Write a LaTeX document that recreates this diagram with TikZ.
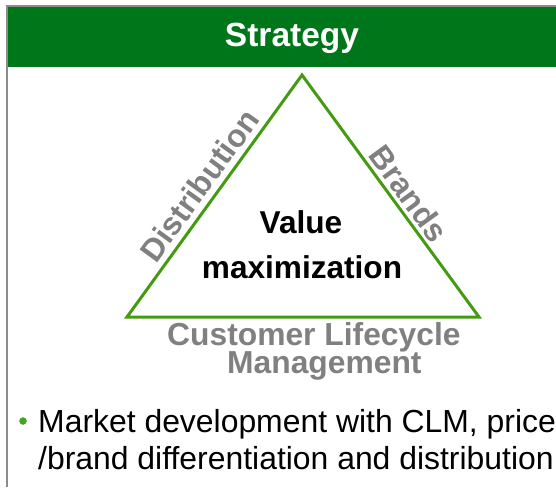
\documentclass[tikz,border=0pt]{standalone}
\usepackage{fontspec}
\setmainfont{Liberation Sans}

\definecolor{bandgreen}{RGB}{0,118,26}
\definecolor{trigreen}{RGB}{68,155,18}
\definecolor{dotgreen}{RGB}{70,165,30}
\definecolor{labelgray}{RGB}{128,128,128}
\definecolor{framegray}{RGB}{140,140,140}

\tikzset{
    sidelabel/.style={text=labelgray, inner sep=0pt, anchor=base,
        font=\fontsize{31.8}{31.8}\selectfont\bfseries},
    centrelabel/.style={text=black, inner sep=0pt, anchor=base,
        font=\fontsize{31.6}{31.6}\selectfont\bfseries},
    bullettext/.style={text=black, inner sep=0pt, anchor=base west,
        font=\fontsize{31.9}{31.9}\selectfont}
}

\begin{document}
\begin{tikzpicture}[x=1pt, y=-1pt]
        \useasboundingbox (0,0) rectangle (556,487);

        % header band
        \fill[bandgreen] (7,7) rectangle (556,67);
        \draw[framegray, line width=2pt] (556,6) -- (7,6) -- (7,487);
        \node[text=white, inner sep=0pt, anchor=base,
              font=\fontsize{33.5}{33.5}\selectfont\bfseries] (title) at (292,47) {Strategy};

        % triangle
        \coordinate (apex) at (302,75);
        \coordinate (bl) at (127,317);
        \coordinate (br) at (479,317);
        \draw[trigreen, line width=3pt, line join=miter] (apex) -- (br) -- (bl) -- cycle;

        \node[sidelabel, rotate=54] (dist) at (208.5,192) {Distribution};
        \node[sidelabel, rotate=-54] (brands) at (400,200) {Brands};

        \node[centrelabel] (value) at (301,233) {Value};
        \node[centrelabel] (maxim) at (302,278) {maximization};

        \node[sidelabel, anchor=base west] (clm1) at (167,345) {Customer Lifecycle};
        \node[sidelabel, anchor=base west] (clm2) at (227,373) {Management};

        % bullet
        \filldraw[dotgreen] (23,421) circle (3.5);
        \node[bullettext] (line1) at (38,432) {Market development with CLM, price};
        \node[bullettext] (line2) at (38,469) {/brand differentiation and distribution};
    \end{tikzpicture}
\end{document}
